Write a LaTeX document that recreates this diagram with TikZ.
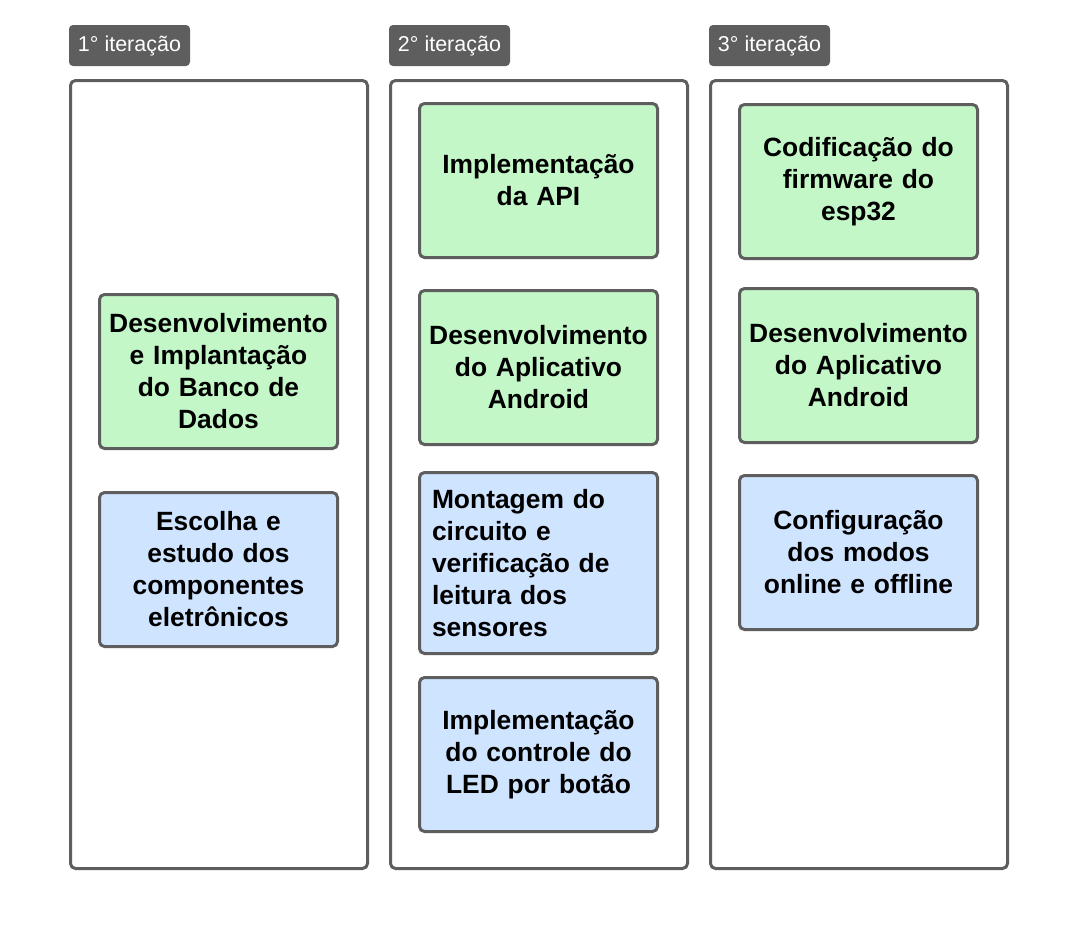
\documentclass[tikz,border=0pt]{standalone}
\usepackage{fontspec}
\setmainfont{Liberation Sans}
\usetikzlibrary{positioning}
\definecolor{framegray}{HTML}{5E5E5E}
\definecolor{taskgreen}{HTML}{C3F7C8}
\definecolor{taskblue}{HTML}{CFE4FF}

\begin{document}
\begin{tikzpicture}[
    x=1pt, y=-1pt,
    column/.style={
        rectangle,
        rounded corners=5pt,
        draw=framegray,
        fill=white,
        line width=3pt,
        minimum width=297pt,
        minimum height=788pt
    },
    tag/.style={
        rectangle,
        rounded corners=4pt,
        fill=framegray,
        text=white,
        minimum width=121pt,
        minimum height=41pt,
        font=\fontsize{21.5}{26}\selectfont
    },
    task/.style={
        rectangle,
        rounded corners=5pt,
        draw=framegray,
        line width=3pt,
        minimum width=238pt,
        minimum height=154pt,
        text width=221pt,
        align=center,
        font=\fontsize{26.4}{32}\selectfont\bfseries
    },
    greentask/.style={task, fill=taskgreen},
    bluetask/.style={task, fill=taskblue}
]
\useasboundingbox (0,0) rectangle (1069,937);

% Iteration headers
\node[tag] (tag1) at (129.5,45.5) {1° iteração};
\node[tag] (tag2) at (449.5,45.5) {2° iteração};
\node[tag] (tag3) at (769.5,45.5) {3° iteração};

% Columns
\node[column] (col1) at (219,474.5) {};
\node[column] (col2) at (539,474.5) {};
\node[column] (col3) at (859,474.5) {};

% 1st iteration
\node[greentask] (banco) at (218.5,371.5) {Desenvolvimento\\e Implantação\\do Banco de\\Dados};
\node[bluetask] (escolha) at (218.5,569.5) {Escolha e\\estudo dos\\componentes\\eletrônicos};

% 2nd iteration
\node[greentask] (api) at (538.5,180.5) {Implementação\\da API};
\node[greentask] (app2) at (538.5,367.5) {Desenvolvimento\\do Aplicativo\\Android};
\node[bluetask, minimum height=181pt, text width=213pt, align=left] (circuito) at (538.5,563) {Montagem do\\circuito e\\verificação de\\leitura dos\\sensores};
\node[bluetask] (led) at (538.5,754.5) {Implementação\\do controle do\\LED por botão};

% 3rd iteration
\node[greentask] (firmware) at (858.5,181.5) {Codificação do\\firmware do\\esp32};
\node[greentask] (app3) at (858.5,365.5) {Desenvolvimento\\do Aplicativo\\Android};
\node[bluetask] (modos) at (858.5,552.5) {Configuração\\dos modos\\online e offline};

\end{tikzpicture}
\end{document}
